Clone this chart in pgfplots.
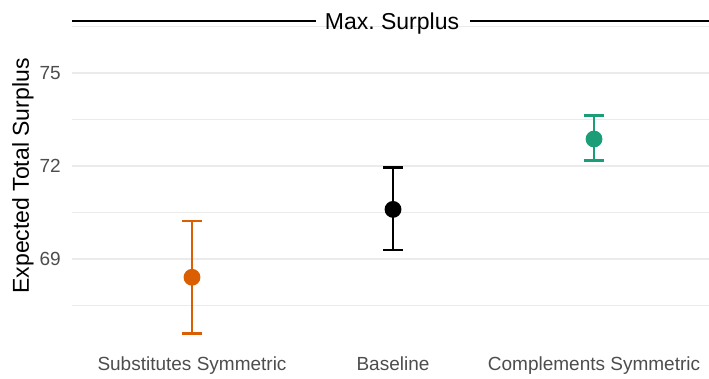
\documentclass[border=0pt]{standalone}
\usepackage{pgfplots}
\pgfplotsset{compat=1.18}
\usepackage{fontspec}
\setmainfont{Liberation Sans}
\definecolor{cOrange}{HTML}{D95F02}
\definecolor{cGreen}{HTML}{1B9E77}
\definecolor{cGrid}{HTML}{EBEBEB}
\definecolor{cTick}{HTML}{4D4D4D}
\begin{document}
\begin{tikzpicture}
\begin{axis}[
  at={(0pt,0pt)}, anchor=south west,
  scale only axis, width=637pt, height=352pt,
  xmin=-0.597, xmax=2.572,
  ymin=66.0, ymax=77.355,
  clip=false,
  axis line style={draw=none},
  major tick length=0pt, minor tick length=0pt,
  tick style={draw=none},
  xtick={0,1,2},
  xticklabels={Substitutes Symmetric, Baseline, Complements Symmetric},
  ytick={69,72,75},
  minor ytick={67.5,70.5,73.5,76.5},
  ymajorgrids, yminorgrids,
  major grid style={cGrid, line width=1.3pt},
  minor grid style={cGrid, line width=0.7pt},
  /pgf/number format/assume math mode=true,
  ticklabel style={font=\fontsize{19}{22}\selectfont, text=cTick, inner sep=0pt},
  x tick label style={anchor=north, yshift=-5pt},
  y tick label style={anchor=east, xshift=-11pt},
  ylabel={Expected Total Surplus},
  ylabel style={at={(axis description cs:-0.0942,0.5)}, anchor=north, rotate=0, inner sep=0pt, font=\fontsize{23}{27}\selectfont},
]
\addplot[cOrange, line width=2.6pt,
  error bars/.cd, y dir=both, y explicit,
  error bar style={line width=2.6pt, cOrange},
  error mark options={line width=2.6pt, mark size=10pt, rotate=90, cOrange}]
  coordinates {(0,68.41) += (0,1.82) -= (0,1.81)};
\addplot[black, line width=2.6pt,
  error bars/.cd, y dir=both, y explicit,
  error bar style={line width=2.6pt, black},
  error mark options={line width=2.6pt, mark size=10pt, rotate=90, black}]
  coordinates {(1,70.60) += (0,1.36) -= (0,1.31)};
\addplot[cGreen, line width=2.6pt,
  error bars/.cd, y dir=both, y explicit,
  error bar style={line width=2.6pt, cGreen},
  error mark options={line width=2.6pt, mark size=10pt, rotate=90, cGreen}]
  coordinates {(2,72.87) += (0,0.75) -= (0,0.69)};
\addplot[only marks, mark=*, mark size=7.4pt, line width=2pt, cOrange, mark options={fill=cOrange, draw=cOrange}]
  coordinates {(0,68.41)};
\addplot[only marks, mark=*, mark size=7.4pt, line width=2pt, black, mark options={fill=black, draw=black}]
  coordinates {(1,70.60)};
\addplot[only marks, mark=*, mark size=7.4pt, line width=2pt, cGreen, mark options={fill=cGreen, draw=cGreen}]
  coordinates {(2,72.87)};
\draw[black, line width=2.8pt] (axis cs:-0.597,76.68) -- (axis cs:0.617,76.68);
\draw[black, line width=2.8pt] (axis cs:1.383,76.68) -- (axis cs:2.572,76.68);
\node[font=\fontsize{23}{27}\selectfont, anchor=base, inner sep=0pt] at (axis cs:0.995,76.41) {Max.\ Surplus};
\end{axis}
\pgfresetboundingbox
\path (-72pt,-26pt) rectangle (637pt,352pt);
\end{tikzpicture}
\end{document}
